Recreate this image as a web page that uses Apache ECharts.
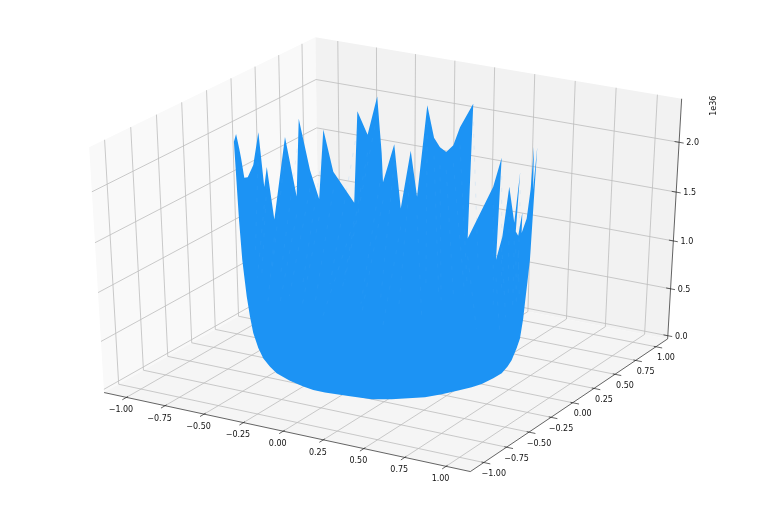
<!DOCTYPE html>
<html><head><meta charset="utf-8">
<style>html,body{margin:0;padding:0;background:#fff}#c{width:761px;height:508px}</style>
<script src="https://cdn.jsdelivr.net/npm/echarts@6/dist/echarts.min.js"></script>
</head><body><div id="c"></div>
<script>
const xTicks=[-1,-0.75,-0.5,-0.25,0,0.25,0.5,0.75,1];
const yTicks=[-1,-0.75,-0.5,-0.25,0,0.25,0.5,0.75,1];
const zTicks=[0,0.5,1,1.5,2];
const xyLabels=['\u22121.00','\u22120.75','\u22120.50','\u22120.25','0.00','0.25','0.50','0.75','1.00'];
const zLabels=['0.0','0.5','1.0','1.5','2.0'];
const zOffsetText='1e36';
const xLim=[-1.1458,1.1458],yLim=[-1.1458,1.1458],zLim=[-0.034,2.429];
// upper edge of the surface, in data units (z in units of 1e36)
const rimX=[-0.817,-0.829,-0.834,-0.839,-0.844,-0.850,-0.855,-0.858,-0.856,-0.853,-0.849,-0.840,-0.816,-0.790,-0.780,-0.749,-0.721,-0.703,-0.669,-0.587,-0.571,-0.527,-0.483,-0.463,-0.457,-0.402,-0.369,-0.318,-0.283,-0.230,-0.191,-0.156,-0.119,-0.077,-0.037,0.045,0.023,0.194,0.253,0.227,0.272,0.319,0.369,0.411,0.384,0.408,0.441,0.440,0.487,0.522,0.547,0.550,0.591];
const rimY=[-0.259,-0.216,-0.197,-0.174,-0.150,-0.113,-0.070,-0.005,0.053,0.094,0.119,0.170,0.262,0.330,0.351,0.410,0.457,0.482,0.527,0.614,0.628,0.663,0.694,0.707,0.711,0.741,0.757,0.778,0.790,0.805,0.814,0.820,0.825,0.829,0.830,0.827,0.828,0.800,0.781,0.790,0.774,0.754,0.729,0.704,0.721,0.706,0.685,0.685,0.651,0.621,0.599,0.596,0.553];
const rimZ=[2.14,2.19,2.12,2.03,1.92,1.70,1.68,1.77,2.07,1.50,1.69,1.13,1.93,1.30,2.08,1.54,1.23,1.93,1.49,1.15,2.08,1.84,2.22,1.65,1.35,1.74,1.08,1.68,1.21,2.15,1.83,1.74,1.70,1.78,1.97,2.23,0.85,1.45,1.77,0.71,0.97,1.51,1.17,1.71,1.09,1.06,1.32,1.11,1.29,1.61,2.06,1.63,2.09];
// lower edge of the surface, from the right side round the front to the left side
const edgeX=[0.651,0.643,0.633,0.627,0.614,0.600,0.577,0.598,0.619,0.616,0.603,0.580,0.541,0.490,0.433,0.291,0.197,0.062,-0.074,-0.150,-0.223,-0.334,-0.456,-0.541,-0.617,-0.640,-0.662,-0.675,-0.688,-0.697,-0.704,-0.713];
const edgeY=[0.392,0.387,0.382,0.378,0.371,0.362,0.349,0.264,0.158,0.067,-0.041,-0.113,-0.194,-0.287,-0.372,-0.488,-0.543,-0.564,-0.584,-0.581,-0.565,-0.524,-0.463,-0.394,-0.340,-0.353,-0.366,-0.374,-0.381,-0.386,-0.390,-0.396];
const edgeZ=[1.06,0.85,0.61,0.45,0.24,0.14,0.01,0,0,0,0,0,0,0,0,0,0,0,0,0,0,0,0,0,0.03,0.14,0.30,0.47,0.68,0.89,1.06,1.46];
const U=[.8660254,.5,0],V=[-.25,.4330127,.8660254],N=[.4330127,-.75,.5];
function cube(x,y,z){return [(x-xLim[0])/(xLim[1]-xLim[0])-.5,(y-yLim[0])/(yLim[1]-yLim[0])-.5,(z-zLim[0])/(zLim[1]-zLim[0])-.5];}
const dot=(a,b)=>a[0]*b[0]+a[1]*b[1]+a[2]*b[2];
function project(x,y,z){const d=cube(x,y,z),w=10-dot(N,d);return [dot(U,d)/w,dot(V,d)/w];}
function render(params,api){
 const P=(x,y,z)=>api.coord(project(x,y,z));
 const [x0,x1]=xLim,[y0,y1]=yLim,[z0,z1]=zLim;
 const ch=[];
 const poly=(pts,fill)=>ch.push({type:'polygon',shape:{points:pts},style:{fill:fill,stroke:null}});
 const line=(pts,c,w)=>ch.push({type:'polyline',shape:{points:pts},style:{stroke:c,lineWidth:w,fill:null}});
 const text=(t,p,dx,dy,rot)=>ch.push({type:'text',x:p[0]+dx,y:p[1]+dy,rotation:rot||0,style:{text:t,fill:'#111',font:'8px "DejaVu Sans"',textAlign:'center',textVerticalAlign:'middle'}});
 poly([P(x0,y0,z0),P(x0,y1,z0),P(x0,y1,z1),P(x0,y0,z1)],'#f9f9f9');
 poly([P(x0,y1,z0),P(x1,y1,z0),P(x1,y1,z1),P(x0,y1,z1)],'#f2f2f2');
 poly([P(x0,y0,z0),P(x1,y0,z0),P(x1,y1,z0),P(x0,y1,z0)],'#f5f5f5');
 const G='#bcbcbc',GW=.8,A='#222',AW=.7;
 xTicks.forEach(t=>line([P(t,y0,z0),P(t,y1,z0),P(t,y1,z1)],G,GW));
 yTicks.forEach(t=>line([P(x1,t,z0),P(x0,t,z0),P(x0,t,z1)],G,GW));
 zTicks.forEach(t=>line([P(x0,y0,t),P(x0,y1,t),P(x1,y1,t)],G,GW));
 line([P(x0,y0,z0),P(x1,y0,z0)],A,AW);line([P(x1,y0,z0),P(x1,y1,z0)],A,AW);line([P(x1,y1,z0),P(x1,y1,z1)],A,AW);
 const sx=x1-x0;
 xTicks.forEach((t,i)=>{line([P(t,y0+.007*sx,z0),P(t,y0-.018*sx,z0)],A,AW);text(xyLabels[i],P(t,y0,z0),-5.5,12.8);});
 yTicks.forEach((t,i)=>{line([P(x1-.006*sx,t,z0),P(x1+.017*sx,t,z0)],A,AW);text(xyLabels[i],P(x1,t,z0),10,11.5);});
 zTicks.forEach((t,i)=>{line([P(x1-.012*sx,y1,t),P(x1+.012*sx,y1,t)],A,AW);text(zLabels[i],P(x1,y1,t),13.5,1);});
 text(zOffsetText,P(x1,y1,z1),32.5,7,Math.PI/2);
 const rim=rimX.map((x,i)=>P(x,rimY[i],rimZ[i]));
 const edge=edgeX.map((x,i)=>P(x,edgeY[i],edgeZ[i]));
 poly(rim.concat(edge),'#1c93f4');
 // faint mesh seams running down from the rim
 rim.forEach((p,i)=>{
  if(i<8||i>rim.length-8) return;
  const q=edge[Math.round((1-i/(rim.length-1))*(edge.length-1))];
  const t=.62;
  ch.push({type:'line',shape:{x1:p[0],y1:p[1]+18,x2:p[0]+(q[0]-p[0])*t,y2:p[1]+(q[1]-p[1])*t},style:{stroke:'#4aa8f8',lineWidth:.6,lineDash:[4,8],opacity:.22}});
 });
 return {type:'group',children:ch};
}
const chart=echarts.init(document.getElementById('c'),null,{renderer:'canvas'});
chart.setOption({animation:false,backgroundColor:'#fff',
 grid:{left:0,right:0,top:0,bottom:0},
 xAxis:{type:'value',min:-0.0923,max:0.0877,show:false},
 yAxis:{type:'value',min:-0.0932,max:0.0882,show:false},
 series:[{type:'custom',silent:true,clip:false,renderItem:render,data:[[0,0]]}]});
</script></body></html>
